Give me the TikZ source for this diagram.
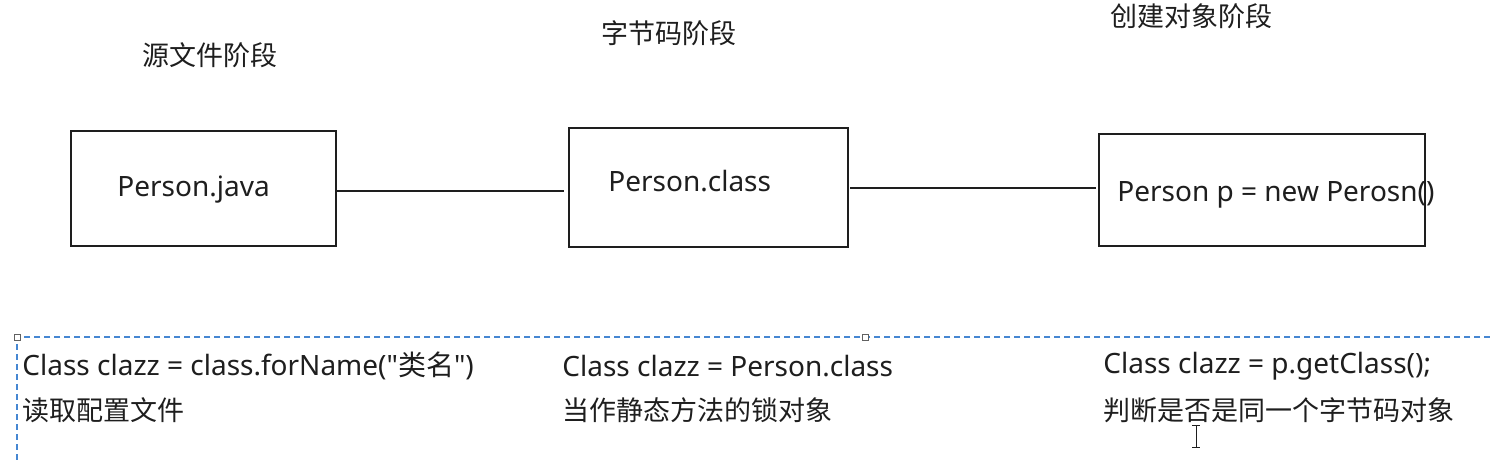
\documentclass[tikz,border=0pt]{standalone}
\usepackage{fontspec}
\setmainfont[Ligatures=TeXOff]{Noto Sans}
\newfontfamily\cjk{Noto Sans CJK SC}
\definecolor{selblue}{RGB}{70,135,210}
\definecolor{ink}{RGB}{30,30,30}
\begin{document}
\begin{tikzpicture}[x=0.5pt,y=-0.5pt,
  stagebox/.style={draw=ink,line width=0.75pt},
  conn/.style={draw=ink,line width=0.75pt},
  txt/.style={anchor=west,inner sep=0pt,text=ink,font=\fontsize{14pt}{16pt}\selectfont},
  cjktxt/.style={txt,font=\fontsize{13.5pt}{15pt}\selectfont\cjk},
  handle/.style={draw=ink!70,fill=white,line width=0.4pt,minimum size=3pt,inner sep=0pt}]
\useasboundingbox (0,0) rectangle (1490,460);
% boxes
\draw[stagebox] (71,131) rectangle (336,246);
\draw[stagebox] (569,128) rectangle (848,247);
\draw[stagebox] (1099,134) rectangle (1425,246);
\coordinate (b1r) at (336,191);
\coordinate (b2l) at (564,191);
\coordinate (b2r) at (850,188);
\coordinate (b3l) at (1096,188);
\draw[conn] (b1r) -- (b2l);
\draw[conn] (b2r) -- (b3l);
% box texts
\node[txt] (t1) at (117,190) {Person.java};
\node[txt] (t2) at (608,181) {Person.class};
\node[txt] (t3) at (1117,195) {Person p = new Perosn()};
% headers
\node[cjktxt] (h1) at (142,55) {源文件阶段};
\node[cjktxt] (h2) at (601,33) {字节码阶段};
\node[cjktxt] (h3) at (1110,16) {创建对象阶段};
% bottom texts
\node[txt] (c1) at (22,366) {Class clazz = class.forName("{\cjk 类名}")};
\node[cjktxt] (d1) at (22,410) {读取配置文件};
\node[txt] (c2) at (562,366) {Class clazz = Person.class};
\node[cjktxt] (d2) at (562,410) {当作静态方法的锁对象};
\node[txt] (c3) at (1103,366) {Class clazz = p.getClass();};
\node[cjktxt] (d3) at (1103,410) {判断是否是同一个字节码对象};
% selection frame
\draw[selblue,line width=0.7pt,dash pattern=on 3pt off 2pt] (1490,337) -- (17,337) -- (17,460);
\node[handle] (hA) at (17,337) {};
\node[handle] (hB) at (865,337) {};
% text cursor
\draw[ink,line width=0.5pt] (1192,425) -- (1200,425) (1196,425) -- (1196,447) (1192,447) -- (1200,447);
\end{tikzpicture}
\end{document}
